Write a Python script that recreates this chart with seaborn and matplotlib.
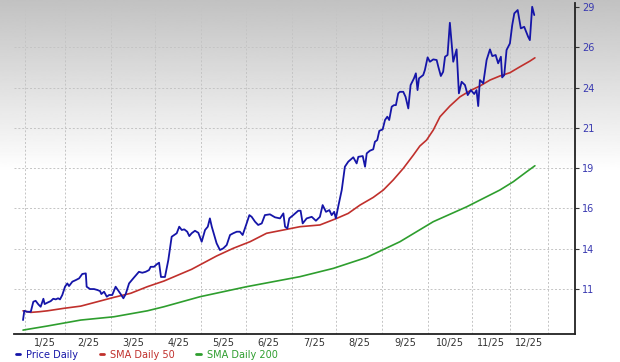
import numpy as np
import pandas as pd
import seaborn as sns
import matplotlib.pyplot as plt

# dados (dia de pregao, preco)
price_day = [0, 0.6, 1.8, 3.7, 4.9, 6.0, 7.3, 8.4, 9.7, 10.3, 11.6, 13.2, 14.4, 15.6, 16.7, 17.6,
             18.7, 20.0, 21.1, 21.9, 23.5, 25.1, 26.7, 28.2, 29.9, 30.3, 31.9, 33.8, 35.4, 36.7,
             37.3, 38.6, 39.9, 41.0, 42.5, 44.1, 45.2, 46.5, 47.8, 48.9, 50.5, 52.5, 55.2, 56.8,
             58.4, 60.0, 60.8, 62.4, 63.7, 64.8, 65.7, 67.6, 69.2, 70.8, 73.2, 74.4, 75.6, 76.8,
             78.2, 79.2, 80.3, 81.9, 83.5, 85.1, 86.7, 88.0, 89.0, 89.9, 90.6, 92.2, 93.8, 95.4,
             97.0, 98.6, 100.1, 101.8, 103.3, 104.6, 106.5, 107.8, 108.9, 110.5, 112.0, 113.7,
             115.2, 117.6, 120.0, 122.4, 124.0, 124.8, 125.9, 126.8, 128.7, 131.1, 132.2, 133.2,
             135.1, 137.5, 139.5, 141.4, 142.7, 144.3, 145.9, 147.0, 148.2, 149.0, 150.1, 151.8,
             153.3, 154.9, 157.3, 158.9, 159.7, 161.8, 162.9, 163.7, 165.2, 166.8, 167.6, 168.7,
             169.7, 171.3, 172.4, 173.5, 174.4, 175.6, 176.7, 177.6, 178.7, 179.5, 181.1, 182.2,
             183.5, 184.6, 186.2, 187.1, 187.9, 188.6, 190.6, 191.4, 192.7, 193.8, 195.4, 197.0,
             197.8, 199.0, 200.1, 201.0, 202.2, 203.3, 203.8, 204.9, 206.5, 207.6, 208.9, 210.5,
             211.8, 213.3, 214.9, 216.0, 216.8, 217.6, 219.2, 220.8, 222.4, 223.5, 225.1, 226.3,
             227.6, 228.2, 229.2, 230.3, 231.9, 233.0, 234.0, 235.6, 237.1, 238.7, 240.6, 241.4,
             242.5, 243.5]
price_val = [9.02, 9.61, 9.55, 9.55, 10.19, 10.25, 10.02, 9.87, 10.38, 10.04, 10.13, 10.23, 10.38,
             10.34, 10.41, 10.34, 10.62, 11.15, 11.36, 11.19, 11.47, 11.57, 11.68, 11.96, 12.00,
             11.15, 11.00, 11.00, 10.94, 10.87, 10.68, 10.83, 10.51, 10.62, 10.62, 11.15, 10.94,
             10.68, 10.41, 10.68, 11.36, 11.68, 12.10, 12.04, 12.10, 12.21, 12.42, 12.42, 12.58,
             12.68, 11.77, 11.77, 12.85, 14.34, 14.56, 14.98, 14.77, 14.81, 14.66, 14.38, 14.56,
             14.72, 14.59, 14.02, 14.77, 14.98, 15.51, 14.98, 14.66, 13.92, 13.49, 13.60, 13.81,
             14.45, 14.56, 14.66, 14.66, 14.45, 15.19, 15.72, 15.61, 15.30, 15.09, 15.19, 15.72,
             15.77, 15.58, 15.51, 15.83, 14.98, 14.87, 15.51, 15.72, 16.00, 16.00, 15.19, 15.51,
             15.61, 15.36, 15.61, 16.36, 15.93, 16.04, 15.72, 15.93, 15.51, 16.25, 17.32, 18.81,
             19.13, 19.41, 19.02, 19.44, 19.49, 18.81, 19.66, 19.83, 19.92, 20.40, 20.51, 21.10,
             21.19, 21.79, 22.00, 21.79, 22.64, 22.74, 22.74, 23.49, 23.59, 23.59, 23.27, 22.53,
             24.02, 24.45, 24.77, 23.70, 24.45, 24.66, 24.98, 25.79, 25.51, 25.66, 25.62, 25.19,
             24.60, 24.87, 25.83, 25.94, 28.00, 27.21, 25.51, 26.30, 23.49, 24.23, 24.02, 23.38,
             23.70, 23.45, 23.70, 22.68, 24.34, 24.13, 25.62, 26.30, 25.87, 25.94, 25.41, 25.83,
             24.51, 24.66, 26.26, 26.68, 27.85, 28.60, 28.81, 27.64, 27.74, 27.10, 26.89, 29.02,
             28.49]

sma50_day = [0, 3.7, 7.6, 11.6, 19.5, 27.5, 35.4, 43.3, 51.3, 59.2, 67.1, 80.3, 92.2, 100.1,
             108.1, 116.0, 124.0, 131.9, 141.4, 149.4, 154.9, 160.5, 166.8, 171.6, 176.3, 181.1,
             185.9, 189.0, 192.2, 195.4, 198.6, 203.3, 208.1, 212.9, 217.6, 222.4, 227.1, 231.9,
             236.7, 241.4, 243.8]
sma50_val = [9.61, 9.51, 9.55, 9.61, 9.77, 9.91, 10.19, 10.47, 10.73, 11.15, 11.51, 12.26, 13.11,
             13.60, 14.02, 14.56, 14.77, 14.98, 15.09, 15.51, 15.83, 16.36, 16.85, 17.32, 17.96,
             18.70, 19.55, 20.13, 20.51, 21.15, 22.00, 22.68, 23.27, 23.66, 23.96, 24.34, 24.60,
             24.81, 25.19, 25.55, 25.76]

sma200_day = [0, 11.6, 27.5, 43.3, 59.2, 67.1, 84.3, 106.5, 131.9, 147.8, 163.7, 179.5, 195.4,
              211.3, 227.1, 233.5, 239.9, 243.8]
sma200_val = [8.38, 8.64, 9.02, 9.23, 9.61, 9.87, 10.51, 11.15, 11.79, 12.32, 13.02, 14.02, 15.30,
              16.25, 17.32, 17.85, 18.49, 18.87]

# inicio de cada mes (dia de pregao) e rotulos
month_start = [1, 20, 42, 63, 85, 106, 128, 149, 171, 193, 214, 232, 250]
month_labels = ["1/25", "2/25", "3/25", "4/25", "5/25", "6/25", "7/25", "8/25", "9/25",
                "10/25", "11/25", "12/25"]
ytick_labels = ["11", "14", "16", "19", "21", "24", "26", "29"]

sns.set_style("white")

fig = plt.figure(figsize=(6.2, 3.62), dpi=100)

# fundo em degrade
bg = fig.add_axes([0, 0, 1, 1], zorder=-1)
grad = np.linspace(0.76, 1.0, 200)
grad = np.concatenate([grad, np.ones(220)])[:, None]
bg.imshow(grad, cmap="gray", vmin=0, vmax=1, aspect="auto", extent=[0, 1, 0, 1])
bg.axis("off")

ax = fig.add_axes([14 / 620, 28 / 362, 561 / 620, 331 / 362])
ax.set_facecolor("none")

df_price = pd.DataFrame({"day": price_day, "val": price_val})
df_50 = pd.DataFrame({"day": sma50_day, "val": sma50_val})
df_200 = pd.DataFrame({"day": sma200_day, "val": sma200_val})

sns.lineplot(data=df_200, x="day", y="val", ax=ax, color="#2e9e2e", lw=1.2, label="SMA Daily 200", estimator=None)
sns.lineplot(data=df_50, x="day", y="val", ax=ax, color="#c0302c", lw=1.2, label="SMA Daily 50", estimator=None)
sns.lineplot(data=df_price, x="day", y="val", ax=ax, color="#1515a8", lw=1.3, label="Price Daily", estimator=None)

ax.set_xlim(-4.3, 262.9)
ax.set_ylim(8.13, 29.26)

ax.set_xticks(month_start)
ax.set_xticklabels([])
mids = [(month_start[i] + month_start[i + 1]) / 2 for i in range(len(month_labels))]
ax.set_xticks(mids, minor=True)
ax.set_xticklabels(month_labels, minor=True)
ax.tick_params(axis="x", which="both", length=0, pad=3, labelsize=7, labelcolor="#333333")

yt = np.linspace(11, 29, 8)
ax.yaxis.tick_right()
ax.set_yticks(yt)
ax.set_yticklabels(ytick_labels)
ax.tick_params(axis="y", length=3, width=0.8, color="#333333", pad=2, labelsize=7, labelcolor="#3838b0")

ax.grid(True, color="#c4c4c4", linestyle=(0, (2, 2)), lw=0.7)
ax.set_axisbelow(True)
ax.set_xlabel("")
ax.set_ylabel("")

for s in ["left", "top"]:
    ax.spines[s].set_visible(False)
ax.spines["right"].set_color("#222222")
ax.spines["bottom"].set_color("#222222")
ax.spines["right"].set_linewidth(1.3)
ax.spines["bottom"].set_linewidth(1.3)

h, l = ax.get_legend_handles_labels()
ax.get_legend().remove()
leg = fig.legend(h[::-1], l[::-1], loc="center left", bbox_to_anchor=(0.025, 0.02), ncol=3,
                 frameon=False, fontsize=7, handlelength=0.5, handletextpad=0.6,
                 columnspacing=2.2, labelcolor="linecolor", borderpad=0, borderaxespad=0)
for line in leg.get_lines():
    line.set_linewidth(2)

fig.savefig("out.png", dpi=100)
